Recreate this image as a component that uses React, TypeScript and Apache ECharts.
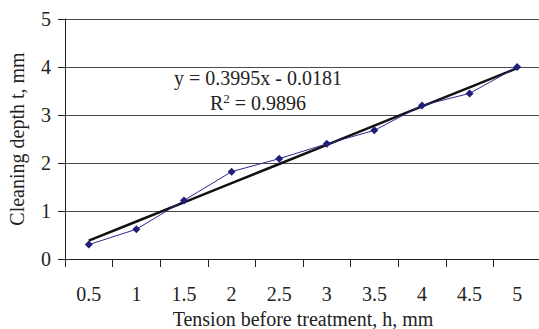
import React, { useEffect, useRef } from "react";
import * as echarts from "echarts";

const categories = ["0.5", "1", "1.5", "2", "2.5", "3", "3.5", "4", "4.5", "5"];
const depthValues = [0.3, 0.62, 1.22, 1.82, 2.09, 2.4, 2.68, 3.2, 3.45, 4.0];
const trendSlope = 0.3995;
const trendIntercept = -0.0181;
const yTicks = [0, 1, 2, 3, 4, 5];
const equationText = "y = 0.3995x - 0.0181";
const r2Value = "0.9896";

const FONT = "'Liberation Serif', 'Times New Roman', serif";
const FS = 20;

export default function App() {
  const ref = useRef<HTMLDivElement>(null);
  useEffect(() => {
    if (!ref.current) return;
    const chart = echarts.init(ref.current, null, { renderer: "svg" });
    const trend = categories.map((_, i) => +(trendSlope * (i + 1) + trendIntercept).toFixed(4));
    chart.setOption({
      animation: false,
      grid: { left: 65, top: 19, width: 476, height: 240, outerBoundsMode: "none", containLabel: false },
      textStyle: { fontFamily: FONT },
      xAxis: {
        type: "category",
        data: categories,
        boundaryGap: true,
        axisLine: { lineStyle: { color: "#222", width: 1 } },
        axisTick: { show: true, length: 8, lineStyle: { color: "#222" } },
        axisLabel: { color: "#222", fontSize: FS, fontFamily: FONT, margin: 25 },
        name: "Tension before treatment, h, mm",
        nameLocation: "middle",
        nameGap: 48,
        nameTextStyle: { color: "#222", fontSize: FS, fontFamily: FONT },
      },
      yAxis: {
        type: "value",
        min: yTicks[0],
        max: yTicks[yTicks.length - 1],
        interval: 1,
        axisLine: { show: true, lineStyle: { color: "#222", width: 1 } },
        axisTick: { show: true, length: 7, lineStyle: { color: "#222" } },
        axisLabel: { color: "#222", fontSize: FS, fontFamily: FONT, margin: 14 },
        splitLine: { show: true, lineStyle: { color: "#4a4a4a", width: 1 } },
        name: "Cleaning depth t, mm",
        nameLocation: "middle",
        nameGap: 38,
        nameTextStyle: { color: "#222", fontSize: FS, fontFamily: FONT },
      },
      series: [
        {
          type: "line",
          data: trend,
          symbol: "none",
          lineStyle: { color: "#111", width: 2.5 },
          z: 2,
        },
        {
          type: "line",
          data: depthValues,
          symbol: "diamond",
          symbolSize: 8,
          itemStyle: { color: "#1F1F7A" },
          lineStyle: { color: "#2A2A8F", width: 1 },
          z: 3,
        },
      ],
      graphic: [
        {
          type: "text",
          x: 258,
          y: 78,
          style: {
            text: equationText,
            font: `${FS}px ${FONT}`,
            fill: "#222",
            align: "center",
            verticalAlign: "middle",
          },
        },
        {
          type: "text",
          x: 258,
          y: 103,
          style: {
            text: `{a|R}{s|2}{a| = ${r2Value}}`,
            font: `${FS}px ${FONT}`,
            fill: "#222",
            align: "center",
            verticalAlign: "middle",
            rich: {
              a: { fontSize: FS, fontFamily: FONT, fill: "#222" },
              s: { fontSize: 13, fontFamily: FONT, fill: "#222", verticalAlign: "top", padding: [0, 0, 9, 0] },
            },
          },
        },
      ],
    });
    return () => chart.dispose();
  }, []);
  return <div ref={ref} style={{ width: 539, height: 329, position: "absolute", left: 0, top: 0, background: "#fff" }} />;
}
